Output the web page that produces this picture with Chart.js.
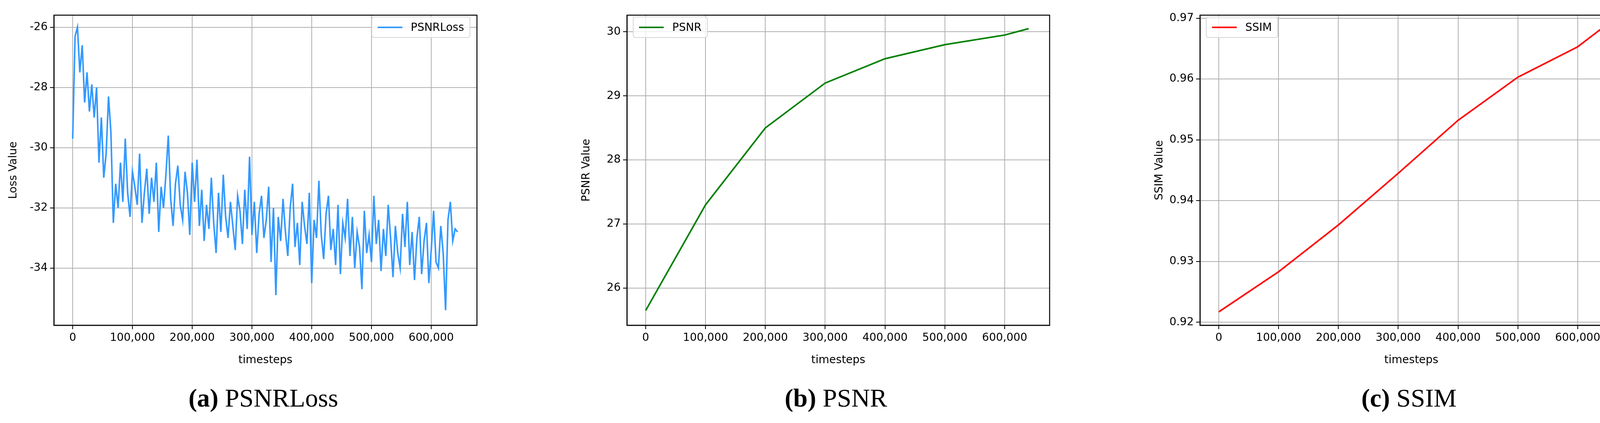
<!DOCTYPE html>
<html>
<head>
<meta charset="utf-8">
<script src="https://cdn.jsdelivr.net/npm/chart.js@4"></script>
<style>
  body { margin: 0; width: 4178px; height: 1082px; background: #fff; position: relative; overflow: hidden; font-family: 'DejaVu Sans', sans-serif; }
  .box { position: absolute; }
  .legend { position: absolute; box-sizing: border-box; height: 55px; background: rgba(255,255,255,0.8); border: 2px solid #d6d6d6; border-radius: 7px; padding: 0 14px; font-size: 28px; display: flex; align-items: center; }
  .legend span.sw { display: inline-block; width: 63px; height: 4px; margin-right: 22px; }
  .cap { position: absolute; top: 985px; line-height: 1; font-family: 'Liberation Serif', 'DejaVu Serif', serif; font-size: 66px; transform: translateX(-50%); white-space: nowrap; }
</style>
</head>
<body>
<div class="box" style="left:18px;top:16px;width:1205px;height:923px"><canvas id="cA"></canvas></div>
<div class="box" style="left:1485px;top:16px;width:1204px;height:923px"><canvas id="cB"></canvas></div>
<div class="box" style="left:2952px;top:16px;width:1204px;height:923px"><canvas id="cC"></canvas></div>

<div class="legend" style="right:2974px;top:42px"><span class="sw" style="background:#3399ff"></span>PSNRLoss</div>
<div class="legend" style="left:1620px;top:42px"><span class="sw" style="background:#008000"></span>PSNR</div>
<div class="legend" style="left:3087px;top:42px"><span class="sw" style="background:#ff0000"></span>SSIM</div>

<div class="cap" style="left:674px"><b>(a)</b> PSNRLoss</div>
<div class="cap" style="left:2140px"><b>(b)</b> PSNR</div>
<div class="cap" style="left:3607px"><b>(c)</b> SSIM</div>

<script>
/* ── DATA ── */
const lossStep = 4000;
const lossValues = [
  -29.7, -26.3, -26.0, -27.5, -26.6, -28.5, -27.5, -28.8, -27.9, -29.0,
  -28.0, -30.5, -29.0, -31.0, -30.2, -28.3, -29.5, -32.5, -31.2, -32.0,
  -30.5, -31.8, -29.7, -31.5, -32.3, -30.8, -31.3, -31.9, -30.2, -32.5,
  -31.5, -30.7, -32.2, -31.0, -31.8, -30.5, -32.8, -31.3, -32.0, -30.9,
  -29.6, -31.7, -32.6, -31.2, -30.6, -31.9, -32.4, -30.8, -31.5, -32.9,
  -30.5, -31.8, -30.4, -32.6, -31.4, -33.1, -31.9, -32.7, -31.0, -32.5,
  -33.5, -31.5, -32.8, -30.9, -32.3, -33.0, -31.8, -32.6, -33.4, -31.6,
  -32.1, -33.2, -31.4, -32.7, -30.3, -32.9, -31.8, -33.5, -32.2, -31.6,
  -33.0, -32.4, -31.3, -33.8, -32.0, -34.9, -32.3, -33.1, -31.7, -32.8,
  -33.6, -32.0, -31.2, -33.3, -32.5, -33.9, -31.8, -32.6, -33.2, -31.5,
  -34.5, -32.4, -33.0, -31.1, -32.9, -33.7, -32.2, -31.6, -33.4, -32.7,
  -33.9, -31.9, -34.2, -32.5, -33.0, -31.7, -33.6, -32.3, -34.0, -32.8,
  -33.3, -34.7, -32.1, -33.5, -32.9, -33.8, -31.6, -33.2, -32.4, -34.1,
  -32.7, -33.6, -31.9, -33.0, -34.3, -32.6, -33.5, -34.0, -32.2, -33.3,
  -31.8, -33.9, -32.8, -34.4, -33.0, -32.3, -34.2, -33.1, -32.5, -34.5,
  -33.4, -32.1, -33.8, -34.0, -32.6, -33.5, -35.4, -32.4, -31.8, -33.1,
  -32.7, -32.8
];

const evalSteps = [0, 100000, 200000, 300000, 400000, 500000, 600000, 640000];
const psnrValues = [25.65, 27.3, 28.5, 29.2, 29.58, 29.8, 29.95, 30.05];
const ssimValues = [0.9217, 0.9283, 0.936, 0.9445, 0.9532, 0.9603, 0.9653, 0.9683];

const xTicks = [0, 100000, 200000, 300000, 400000, 500000, 600000];
const yTicksA = [-34, -32, -30, -28, -26];
const yTicksB = [26, 27, 28, 29, 30];
const yTicksC = [0.92, 0.93, 0.94, 0.95, 0.96, 0.97];

/* ── HELPERS ── */
const frame = {
    id: 'frame',
    afterDraw(chart) {
        const a = chart.chartArea, c = chart.ctx;
        c.save();
        c.strokeStyle = '#000';
        c.lineWidth = 2.5;
        c.strokeRect(a.left, a.top, a.right - a.left, a.bottom - a.top);
        c.restore();
    }
};

function makeChart(id, points, color, width, xr, yr, yTicks, yTitle, fmt) {
    return new Chart(document.getElementById(id), {
        type: 'line',
        data: {
            datasets: [{
                data: points,
                borderColor: color,
                borderWidth: width,
                pointRadius: 0,
                tension: 0,
                fill: false
            }]
        },
        options: {
            responsive: true,
            maintainAspectRatio: false,
            animation: false,
            layout: { padding: { top: 10, right: 2 } },
            plugins: { legend: { display: false }, tooltip: { enabled: false } },
            scales: {
                x: {
                    type: 'linear',
                    min: xr[0], max: xr[1],
                    afterBuildTicks: ax => { ax.ticks = xTicks.map(v => ({ value: v })); },
                    afterFit: ax => { ax.height = 107; },
                    ticks: {
                        color: '#000', font: { family: 'DejaVu Sans', size: 28 }, padding: 6,
                        maxRotation: 0, autoSkip: false,
                        callback: v => v.toLocaleString('en-US')
                    },
                    grid: { color: '#b0b0b0', lineWidth: 2, tickColor: '#000', tickLength: 10 },
                    border: { color: '#000', width: 2.5 },
                    title: { display: true, text: 'timesteps', color: '#000', font: { family: 'DejaVu Sans', size: 28 }, padding: 0 }
                },
                y: {
                    min: yr[0], max: yr[1],
                    afterBuildTicks: ax => { ax.ticks = yTicks.map(v => ({ value: v })); },
                    afterFit: ax => { ax.width = 120; },
                    ticks: {
                        color: '#000', font: { family: 'DejaVu Sans', size: 28 }, padding: 6,
                        autoSkip: false, callback: fmt
                    },
                    grid: { color: '#b0b0b0', lineWidth: 2, tickColor: '#000', tickLength: 10 },
                    border: { color: '#000', width: 2.5 },
                    title: { display: true, text: yTitle, color: '#000', font: { family: 'DejaVu Sans', size: 28 }, padding: 0 }
                }
            }
        },
        plugins: [frame]
    });
}

/* ── CHARTS ── */
makeChart('cA', lossValues.map((v, i) => ({ x: i * lossStep, y: v })), '#3399ff', 4,
    [-31400, 676500], [-35.9, -25.6], yTicksA, 'Loss Value', v => String(v));

makeChart('cB', evalSteps.map((s, i) => ({ x: s, y: psnrValues[i] })), '#008000', 4,
    [-31300, 675100], [25.42, 30.26], yTicksB, 'PSNR Value', v => String(v));

makeChart('cC', evalSteps.map((s, i) => ({ x: s, y: ssimValues[i] })), '#ff0000', 4,
    [-31400, 675200], [0.9195, 0.9705], yTicksC, 'SSIM Value', v => v.toFixed(2));
</script>
</body>
</html>
